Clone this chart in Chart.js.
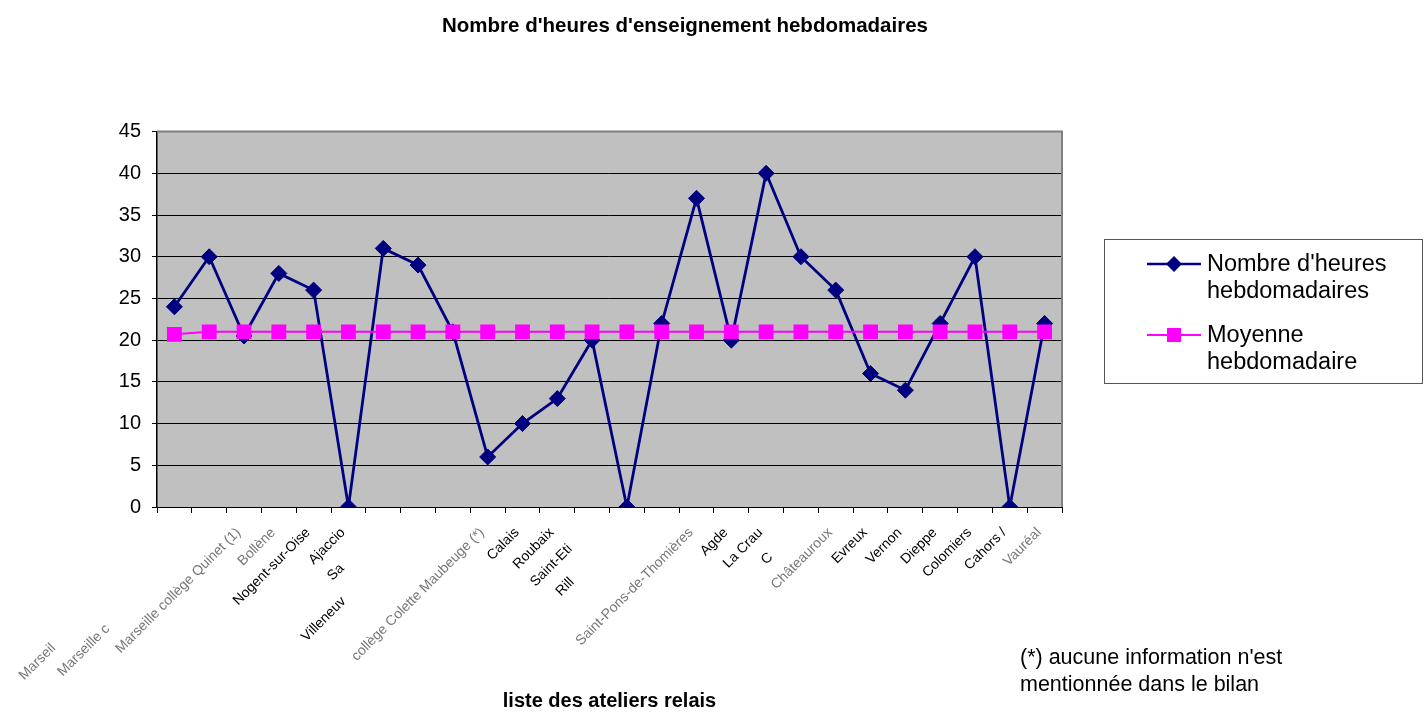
<!DOCTYPE html>
<html>
<head>
<meta charset="utf-8">
<script src="https://cdn.jsdelivr.net/npm/chart.js@4/dist/chart.umd.min.js"></script>
<style>
  body { margin: 0; background: #fff; font-family: "Liberation Sans", Arial, sans-serif; }
  #wrap { position: relative; width: 1423px; height: 713px; }
  #legend { position: absolute; left: 1104px; top: 239px; width: 317px; height: 143px; border: 1px solid #555; }
  #legend svg { position: absolute; left: 42px; }
  #legend .txt { position: absolute; left: 102px; font-size: 23.5px; line-height: 27px; color: #000; white-space: nowrap; }
  #note { position: absolute; left: 1020px; top: 644px; font-size: 21.5px; line-height: 27px; color: #000; }
</style>
</head>
<body>
<div id="wrap">
  <canvas id="heuresChart" width="1423" height="713"></canvas>
  <div id="legend">
    <svg style="top:16px" width="54" height="18"><line x1="0" y1="8" x2="54" y2="8" stroke="#000080" stroke-width="2.5"/><path d="M27 0 L35 8 L27 16 L19 8 Z" fill="#000080"/></svg>
    <div class="txt" style="top:10px">Nombre d'heures<br>hebdomadaires</div>
    <svg style="top:87px" width="54" height="16"><line x1="0" y1="8" x2="54" y2="8" stroke="#ff00ff" stroke-width="2"/><rect x="20" y="1" width="14" height="14" fill="#ff00ff"/></svg>
    <div class="txt" style="top:81px">Moyenne<br>hebdomadaire</div>
  </div>
  <div id="note">(*) aucune information n'est<br>mentionnée dans le bilan</div>
</div>
<script>
// ateliers relais (labels as they show on the original, some are cut off)
const ateliers = [
  "Marseil", "Marseille c", "Marseille collège Quinet (1)", "Bollène", "Nogent-sur-Oise",
  "Ajaccio", "Sa", "Villeneuv", "", "collège Colette Maubeuge (*)",
  "Calais", "Roubaix", "Saint-Eti", "Rill", "",
  "Saint-Pons-de-Thomières", "Agde", "La Crau", "C", "Châteauroux",
  "Evreux", "Vernon", "Dieppe", "Colomiers", "Cahors /", "Vauréal"
];

// nombre d'heures hebdomadaires
const heures = [
  24, 30, 20.5, 28, 26, 0, 31, 29, 21, 6,
  10, 13, 20, 0, 22, 37, 20, 40, 30, 26,
  16, 14, 22, 30, 0, 22
];

// moyenne hebdomadaire
const moyenne = [
  20.7, 21, 21, 21, 21, 21, 21, 21, 21, 21,
  21, 21, 21, 21, 21, 21, 21, 21, 21, 21,
  21, 21, 21, 21, 21, 21
];

const yMax = 45;
const yStep = 5;

// cut-off labels sit lower on the original: pad them with trailing spaces
const labelPad = { 0: 42, 1: 35, 6: 13, 7: 25, 12: 6, 13: 18, 18: 9 };
// labels that look greyed out (blurred) on the original
const greyLabels = [0, 1, 2, 3, 9, 15, 19, 25];

const plotBackground = {
  id: 'plotBackground',
  beforeDraw(chart) {
    const { ctx, chartArea: a } = chart;
    ctx.save();
    ctx.fillStyle = '#c0c0c0';
    ctx.fillRect(a.left, a.top, a.right - a.left, a.bottom - a.top);
    ctx.restore();
  },
  beforeDatasetsDraw(chart) {
    const { ctx, chartArea: a } = chart;
    ctx.save();
    ctx.strokeStyle = '#808080';
    ctx.lineWidth = 2;
    ctx.beginPath();
    ctx.moveTo(a.left, a.top);
    ctx.lineTo(a.right, a.top);
    ctx.lineTo(a.right, a.bottom);
    ctx.stroke();
    ctx.restore();
  }
};

const ctx = document.getElementById('heuresChart').getContext('2d');
new Chart(ctx, {
  type: 'line',
  data: {
    labels: ateliers,
    datasets: [{
      label: "Nombre d'heures hebdomadaires",
      data: heures,
      borderColor: '#000080',
      backgroundColor: '#000080',
      borderWidth: 2.8,
      pointStyle: 'rectRot',
      pointRadius: 8,
      pointBorderWidth: 1,
      tension: 0,
      order: 2
    }, {
      label: 'Moyenne hebdomadaire',
      data: moyenne,
      borderColor: '#ff00ff',
      backgroundColor: '#ff00ff',
      borderWidth: 2,
      pointStyle: 'rect',
      pointRadius: 10.5,
      pointBorderWidth: 0,
      tension: 0,
      order: 1
    }]
  },
  options: {
    responsive: false,
    animation: false,
    layout: { padding: { left: 0, right: 53, top: 0, bottom: 0 } },
    plugins: {
      legend: { display: false },
      tooltip: { enabled: false },
      title: {
        display: true,
        text: "Nombre d'heures d'enseignement hebdomadaires",
        color: '#000',
        font: { family: 'Liberation Sans, Arial', size: 20.5, weight: 'bold' },
        padding: { top: 14, bottom: 93 }
      }
    },
    scales: {
      x: {
        offset: true,
        afterFit(s) { s.height = 206; },
        grid: { offset: true, drawOnChartArea: false, drawTicks: true, tickLength: 6, color: '#000' },
        border: { color: '#000', width: 1 },
        ticks: {
          autoSkip: false,
          minRotation: 45,
          maxRotation: 45,
          padding: 6,
          font: { family: 'Liberation Sans, Arial', size: 14 },
          color: (c) => greyLabels.includes(c.index) ? '#777' : '#000',
          callback(value, i) {
            return ateliers[i] + ' '.repeat(2 + (labelPad[i] || 0));
          }
        },
        title: {
          display: true,
          text: 'liste des ateliers relais',
          color: '#000',
          font: { family: 'Liberation Sans, Arial', size: 20, weight: 'bold' },
          padding: { top: 0, bottom: 0 }
        }
      },
      y: {
        min: 0,
        max: yMax,
        afterFit(s) { s.width = 157; },
        grid: { color: '#000', lineWidth: 1, tickLength: 5 },
        border: { color: '#000', width: 1.5 },
        ticks: {
          stepSize: yStep,
          padding: 11,
          color: '#000',
          font: { family: 'Liberation Sans, Arial', size: 20 }
        }
      },
      y2: {
        position: 'right',
        afterFit(s) { s.width = 308; },
        grid: { display: false },
        border: { display: false },
        ticks: { display: false }
      }
    }
  },
  plugins: [plotBackground]
});
</script>
</body>
</html>
